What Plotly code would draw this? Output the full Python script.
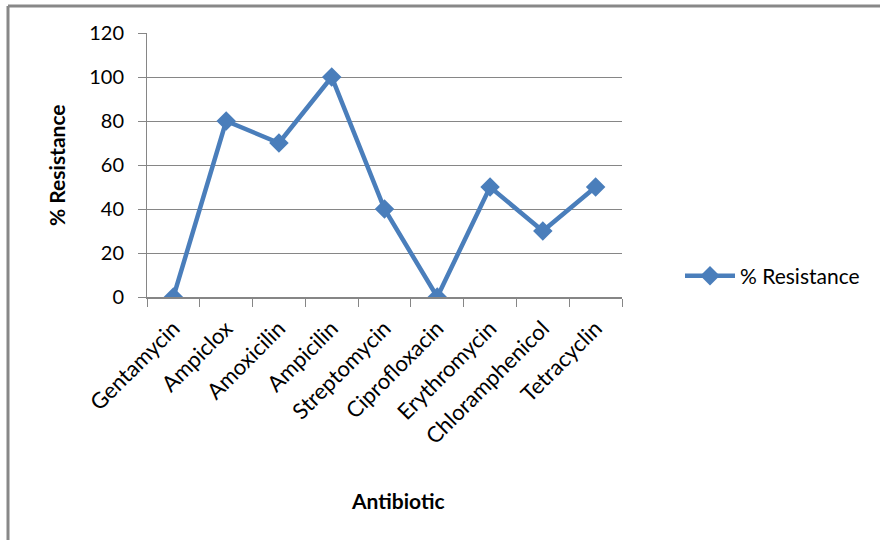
import plotly.graph_objects as go

antibiotics = ["Gentamycin", "Ampiclox", "Amoxicilin", "Ampicilin", "Streptomycin",
               "Ciprofloxacin", "Erythromycin", "Chloramphenicol", "Tetracyclin"]
resistance = [0, 80, 70, 100, 40, 0, 50, 30, 50]
y_ticks = [0, 20, 40, 60, 80, 100, 120]

FONT = "Lato"
BLUE = "#4a7ebb"
GRID = "#868686"

fig = go.Figure()
fig.add_trace(go.Scatter(
    x=antibiotics, y=resistance, mode="lines+markers", name="% Resistance",
    line=dict(color=BLUE, width=4.5),
    marker=dict(symbol="diamond", size=15, color=BLUE),
))

L, R, T, B = 147, 258, 33, 243
W, H = 880, 540
pw, ph = W - L - R, H - T - B

fig.update_layout(
    width=W, height=H,
    margin=dict(l=L, r=R, t=T, b=B),
    paper_bgcolor="white", plot_bgcolor="white",
    font=dict(family=FONT, color="black"),
    showlegend=True,
    legend=dict(x=(680 - L) / pw, y=(H - B - 276) / ph, xanchor="left", yanchor="middle",
                font=dict(size=21, family=FONT), bgcolor="rgba(0,0,0,0)", itemwidth=50),
    xaxis=dict(
        type="category", tickangle=-45, tickfont=dict(size=22),
        showgrid=False, showline=True, linecolor=GRID, linewidth=2,
        ticks="outside", tickcolor=GRID, ticklen=8, tickson="boundaries",
        range=[-0.5, len(antibiotics) - 0.5], ticklabelstandoff=8,
    ),
    yaxis=dict(
        range=[0, 120], tickvals=y_ticks, tickfont=dict(size=20),
        showgrid=True, gridcolor=GRID, gridwidth=1,
        showline=True, linecolor=GRID, linewidth=1,
        ticks="outside", tickcolor=GRID, ticklen=8, zeroline=False,
        ticklabelstandoff=10,
    ),
    annotations=[
        dict(text="<b>% Resistance</b>", x=(56 - L) / pw, y=0.5, xref="paper", yref="paper",
             textangle=-90, showarrow=False, font=dict(size=21, family=FONT),
             xanchor="center", yanchor="middle"),
        dict(text="<b>Antibiotic</b>", x=(398 - L) / pw, y=(H - B - 500) / ph, xref="paper", yref="paper",
             showarrow=False, font=dict(size=21, family=FONT),
             xanchor="center", yanchor="middle"),
    ],
    shapes=[
        dict(type="line", xref="paper", yref="paper",
             x0=(8 - L) / pw, x1=(W + 5 - L) / pw, y0=(H - B - 6) / ph, y1=(H - B - 6) / ph,
             line=dict(color="#888888", width=3)),
        dict(type="line", xref="paper", yref="paper",
             x0=(8 - L) / pw, x1=(8 - L) / pw, y0=(H - B - 6) / ph, y1=(H - B - H - 5) / ph,
             line=dict(color="#888888", width=3)),
    ],
)

fig.write_html("out.html", config={"displayModeBar": False},
               post_script="document.body.style.margin='0';")
